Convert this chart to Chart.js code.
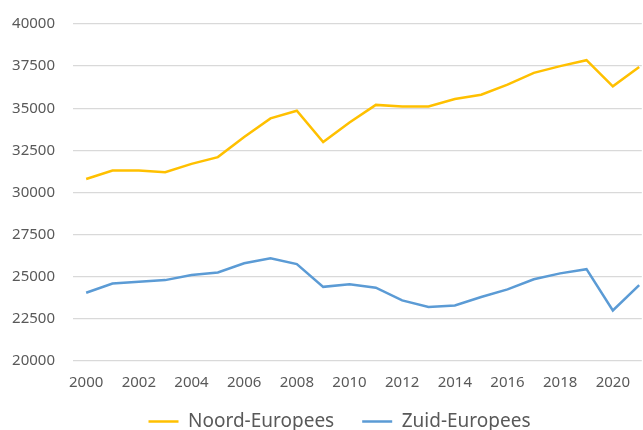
<!DOCTYPE html>
<html>
<head>
<meta charset="utf-8">
<script src="https://cdn.jsdelivr.net/npm/chart.js@4/dist/chart.umd.min.js"></script>
<style>
  html, body { margin: 0; padding: 0; background: #fff; }
  #wrap { width: 643px; height: 430px; }
</style>
</head>
<body>
<div id="wrap"><canvas id="chart"></canvas></div>
<script>
// data
var years = [2000, 2001, 2002, 2003, 2004, 2005, 2006, 2007, 2008, 2009, 2010,
             2011, 2012, 2013, 2014, 2015, 2016, 2017, 2018, 2019, 2020, 2021];
var noord = [30800, 31300, 31300, 31200, 31700, 32100, 33300, 34400, 34850, 33000, 34150,
             35200, 35100, 35100, 35550, 35800, 36400, 37100, 37500, 37850, 36300, 37450];
var zuid = [24050, 24600, 24700, 24800, 25100, 25250, 25800, 26100, 25750, 24400, 24550,
            24350, 23600, 23200, 23300, 23800, 24250, 24850, 25200, 25450, 23000, 24500];
var yearTicks = [2000, 2002, 2004, 2006, 2008, 2010, 2012, 2014, 2016, 2018, 2020];

var txt = '#595959';
var font = "'Noto Sans', 'Open Sans', sans-serif";

function pts(vals) {
  return vals.map(function (v, i) { return { x: years[i], y: v }; });
}

// legend sits a bit right of centre in the original (image is cropped on the right),
// and closer to the axis labels than the legend padding would allow
var legendShift = {
  id: 'legendShift',
  afterLayout: function (chart) {
    var lg = chart.legend;
    lg.left += 18;
    lg.right += 18;
    lg.top -= 21;
    lg.bottom -= 21;
  },
};

var ctx = document.getElementById('chart');
new Chart(ctx, {
  type: 'line',
  data: {
    datasets: [
      {
        label: 'Noord-Europees',
        data: pts(noord),
        borderColor: '#FFC000',
        backgroundColor: '#FFC000',
        borderWidth: 2.5,
        pointRadius: 0,
        pointStyle: 'line',
        tension: 0,
      },
      {
        label: 'Zuid-Europees',
        data: pts(zuid),
        borderColor: '#5B9BD5',
        backgroundColor: '#5B9BD5',
        borderWidth: 2.5,
        pointRadius: 0,
        pointStyle: 'line',
        tension: 0,
      },
    ],
  },
  options: {
    responsive: true,
    maintainAspectRatio: false,
    animation: false,
    layout: { padding: { top: 0, left: 0, right: 0, bottom: -32 } },
    plugins: {
      tooltip: { enabled: false },
      legend: {
        display: true,
        position: 'bottom',
        labels: {
          usePointStyle: true,
          pointStyleWidth: 30,
          font: { family: font, size: 19 },
          color: txt,
          padding: 28,
          boxHeight: 19,
        },
      },
    },
    scales: {
      x: {
        type: 'linear',
        min: 1999.5,
        max: 2021.1,
        grid: { display: false, drawTicks: false },
        border: { display: false },
        afterBuildTicks: function (scale) {
          scale.ticks = yearTicks.map(function (v) { return { value: v }; });
        },
        ticks: {
          autoSkip: false,
          maxRotation: 0,
          padding: 13,
          color: txt,
          font: { family: font, size: 15 },
          callback: function (v) { return String(v); },
        },
      },
      y: {
        min: 20000,
        max: 40000,
        afterFit: function (scale) {
          scale.width = 73;
          scale.paddingTop = 24;
          scale.paddingBottom = 0;
        },
        grid: { color: '#D9D9D9', lineWidth: 1.3, drawTicks: false },
        border: { display: false },
        ticks: {
          stepSize: 2500,
          padding: 18,
          color: txt,
          font: { family: font, size: 15 },
          callback: function (v) { return String(v); },
        },
      },
    },
  },
  plugins: [legendShift],
});
</script>
</body>
</html>
